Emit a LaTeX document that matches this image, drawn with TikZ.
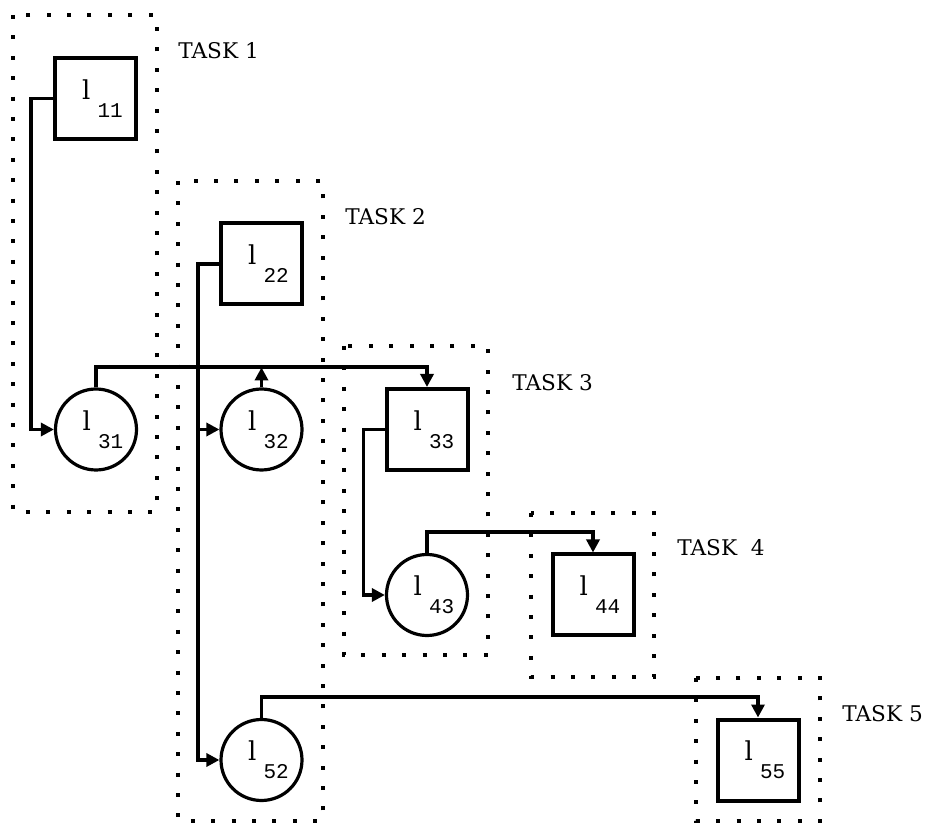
\documentclass[tikz,border=0pt]{standalone}
\usepackage{fontspec}
\newfontfamily\subfont{Liberation Mono}
\newfontfamily\labfont{DejaVu Serif}
\usetikzlibrary{arrows.meta}
\newcommand{\lname}[1]{\hspace*{7pt}{\labfont\fontsize{13}{13}\selectfont l}\hspace{3.5pt}\raisebox{-9pt}{\subfont\fontsize{10.5}{10.5}\selectfont #1}}
\begin{document}
\begin{tikzpicture}[
        x=0.5pt, y=-0.5pt,
        task/.style={draw, line width=2pt, dash pattern=on 2pt off 8.2pt},
        tasklabel/.style={anchor=west, inner sep=0pt, font=\labfont\fontsize{10.8}{13}\selectfont},
        block/.style={draw, line width=2pt, minimum size=40.5pt, inner sep=0pt},
        unit/.style={circle, draw, line width=1.6pt, minimum size=40.5pt, inner sep=0pt},
        link/.style={line width=1.9pt},
        arrow/.style={link, -{Triangle[length=6.5pt, width=6.5pt]}}
    ]
        \useasboundingbox (0,0) rectangle (927,823);

        % Task frames
        \foreach \n/\xa/\ya/\xb/\yb in {1/13/15/157/512, 2/178/181/323/821, 3/344/346/488/655, 4/531/513/654/677, 5/696/678/820/821} {
            \draw[task] (\xa,\ya) rectangle (\xb,\yb);
        }
        \node[tasklabel] (t1) at (178, 51) {TASK 1};
        \node[tasklabel] (t2) at (345, 217) {TASK 2};
        \node[tasklabel] (t3) at (512, 383) {TASK 3};
        \node[tasklabel] (t4) at (677, 548) {TASK\ \ 4};
        \node[tasklabel] (t5) at (842, 714) {TASK 5};

        % Blocks
        \node[block] (l11) at (95.5, 98.5) {\lname{11}};
        \node[block] (l22) at (261.5, 264) {\lname{22}};
        \node[block] (l33) at (427, 429.5) {\lname{33}};
        \node[block] (l44) at (593, 595) {\lname{44}};
        \node[block] (l55) at (758, 760) {\lname{55}};

        % Units
        \node[unit] (l31) at (96, 429.5) {\lname{31}};
        \node[unit] (l32) at (261.5, 429.5) {\lname{32}};
        \node[unit] (l43) at (427, 595) {\lname{43}};
        \node[unit] (l52) at (261.5, 760) {\lname{52}};

        % Connections
        \draw[arrow] (l11.west) -- ++(-22,0) |- (l31.west);
        \draw[arrow] (l22.west) -- ++(-21,0) |- (l32.west);
        \draw[arrow] (l22.west) -- ++(-21,0) |- (l52.west);
        \draw[arrow] (l33.west) -- ++(-21,0) |- (l43.west);

        \coordinate (bus1) at ([yshift=10pt]l31.north);
        \draw[arrow] (l31.north) -- (bus1) -| (l33.north);
        \draw[arrow] (l32.north) -- (l32.north |- bus1);
        \draw[arrow] (l43.north) -- ++(0,-21) -| (l44.north);
        \draw[arrow] (l52.north) -- ++(0,-21) -| (l55.north);
    \end{tikzpicture}
\end{document}
